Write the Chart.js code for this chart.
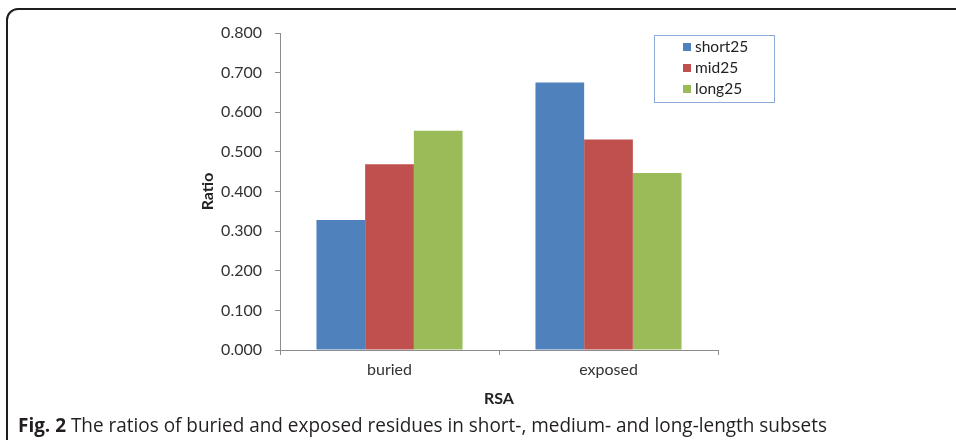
<!DOCTYPE html>
<html>
<head>
<meta charset="utf-8">
<script src="https://cdn.jsdelivr.net/npm/chart.js@4.4.0/dist/chart.umd.min.js"></script>
<style>
  html, body { margin: 0; padding: 0; background: #fff; }
  #wrap { position: relative; width: 956px; height: 440px; overflow: hidden; background: #fff; }
  #c { position: absolute; left: 0; top: 0; }
  #frame { position: absolute; left: 6px; top: 8px; width: 1000px; height: 500px;
           border: 2px solid #1e1e1e; border-radius: 12px; box-sizing: border-box; }
  #caption { position: absolute; left: 18px; top: 413px; font-family: "Open Sans", sans-serif;
             font-size: 20px; line-height: 24px; color: #231f20; white-space: nowrap; transform-origin: left center; }
  #caption b { font-weight: 700; }
</style>
</head>
<body>
<div id="wrap">
  <canvas id="c" width="956" height="440"></canvas>
  <div id="frame"></div>
  <div id="caption"><b>Fig. 2</b> The ratios of buried and exposed residues in short-, medium- and long-length subsets</div>
</div>
<script>
const categories = ["buried", "exposed"];
const seriesNames = ["short25", "mid25", "long25"];
const short25 = [0.328, 0.675];
const mid25 = [0.469, 0.531];
const long25 = [0.553, 0.447];
const yTickLabels = ["0.000", "0.100", "0.200", "0.300", "0.400", "0.500", "0.600", "0.700", "0.800"];
const colors = ["#4f81bd", "#c0504d", "#9bbb59"];

const FONT = "Lato, 'Open Sans', sans-serif";

const boxLegend = {
  id: "boxLegend",
  afterDraw(chart) {
    const ctx = chart.ctx;
    const x0 = 654, y0 = 35, w = 120, h = 67;
    ctx.save();
    ctx.strokeStyle = "#8eaadb";
    ctx.lineWidth = 1;
    ctx.strokeRect(x0 + 0.5, y0 + 0.5, w, h);
    ctx.font = "15.5px " + FONT;
    ctx.textBaseline = "middle";
    chart.data.datasets.forEach((ds, i) => {
      const cy = 47 + i * 21;
      ctx.fillStyle = ds.backgroundColor;
      ctx.fillRect(683, cy - 4, 8, 8);
      ctx.fillStyle = "#222";
      ctx.fillText(ds.label, 695, cy);
    });
    ctx.restore();
  }
};

new Chart(document.getElementById("c"), {
  type: "bar",
  data: {
    labels: categories,
    datasets: [
      { label: seriesNames[0], data: short25, backgroundColor: colors[0] },
      { label: seriesNames[1], data: mid25, backgroundColor: colors[1] },
      { label: seriesNames[2], data: long25, backgroundColor: colors[2] }
    ]
  },
  options: {
    responsive: false,
    animation: false,
    devicePixelRatio: 1,
    layout: { padding: { left: 194, right: 238, top: 33, bottom: 28 } },
    datasets: { bar: { categoryPercentage: 0.667, barPercentage: 1.0 } },
    plugins: { legend: { display: false }, tooltip: { enabled: false } },
    scales: {
      x: {
        afterFit(s) { s.height = 62; },
        grid: { display: true, drawOnChartArea: false, drawTicks: true, tickLength: 5, tickColor: "#8c8c8c", offset: true },
        border: { display: true, color: "#8c8c8c", width: 1 },
        ticks: { padding: 5, color: "#333", font: { family: FONT, size: 16 } },
        title: { display: true, text: "RSA", color: "#222", font: { family: FONT, size: 16, weight: "bold" } }
      },
      y: {
        min: 0, max: 0.8,
        afterFit(s) { s.width = 86; },
        grid: { display: true, drawOnChartArea: false, drawTicks: true, tickLength: 5, tickColor: "#8c8c8c" },
        border: { display: true, color: "#8c8c8c", width: 1 },
        ticks: { stepSize: 0.1, padding: 13, color: "#333", font: { family: FONT, size: 16 },
                 callback: (v, i) => yTickLabels[i] },
        title: { display: true, text: "Ratio", color: "#222", font: { family: FONT, size: 16, weight: "bold" } }
      }
    }
  },
  plugins: [boxLegend]
});

// fit caption width to the reference
const cap = document.getElementById("caption");
const target = 809;
const wNow = cap.getBoundingClientRect().width;
if (wNow > 0) cap.style.transform = "scaleX(" + (target / wNow) + ")";
</script>
</body>
</html>
